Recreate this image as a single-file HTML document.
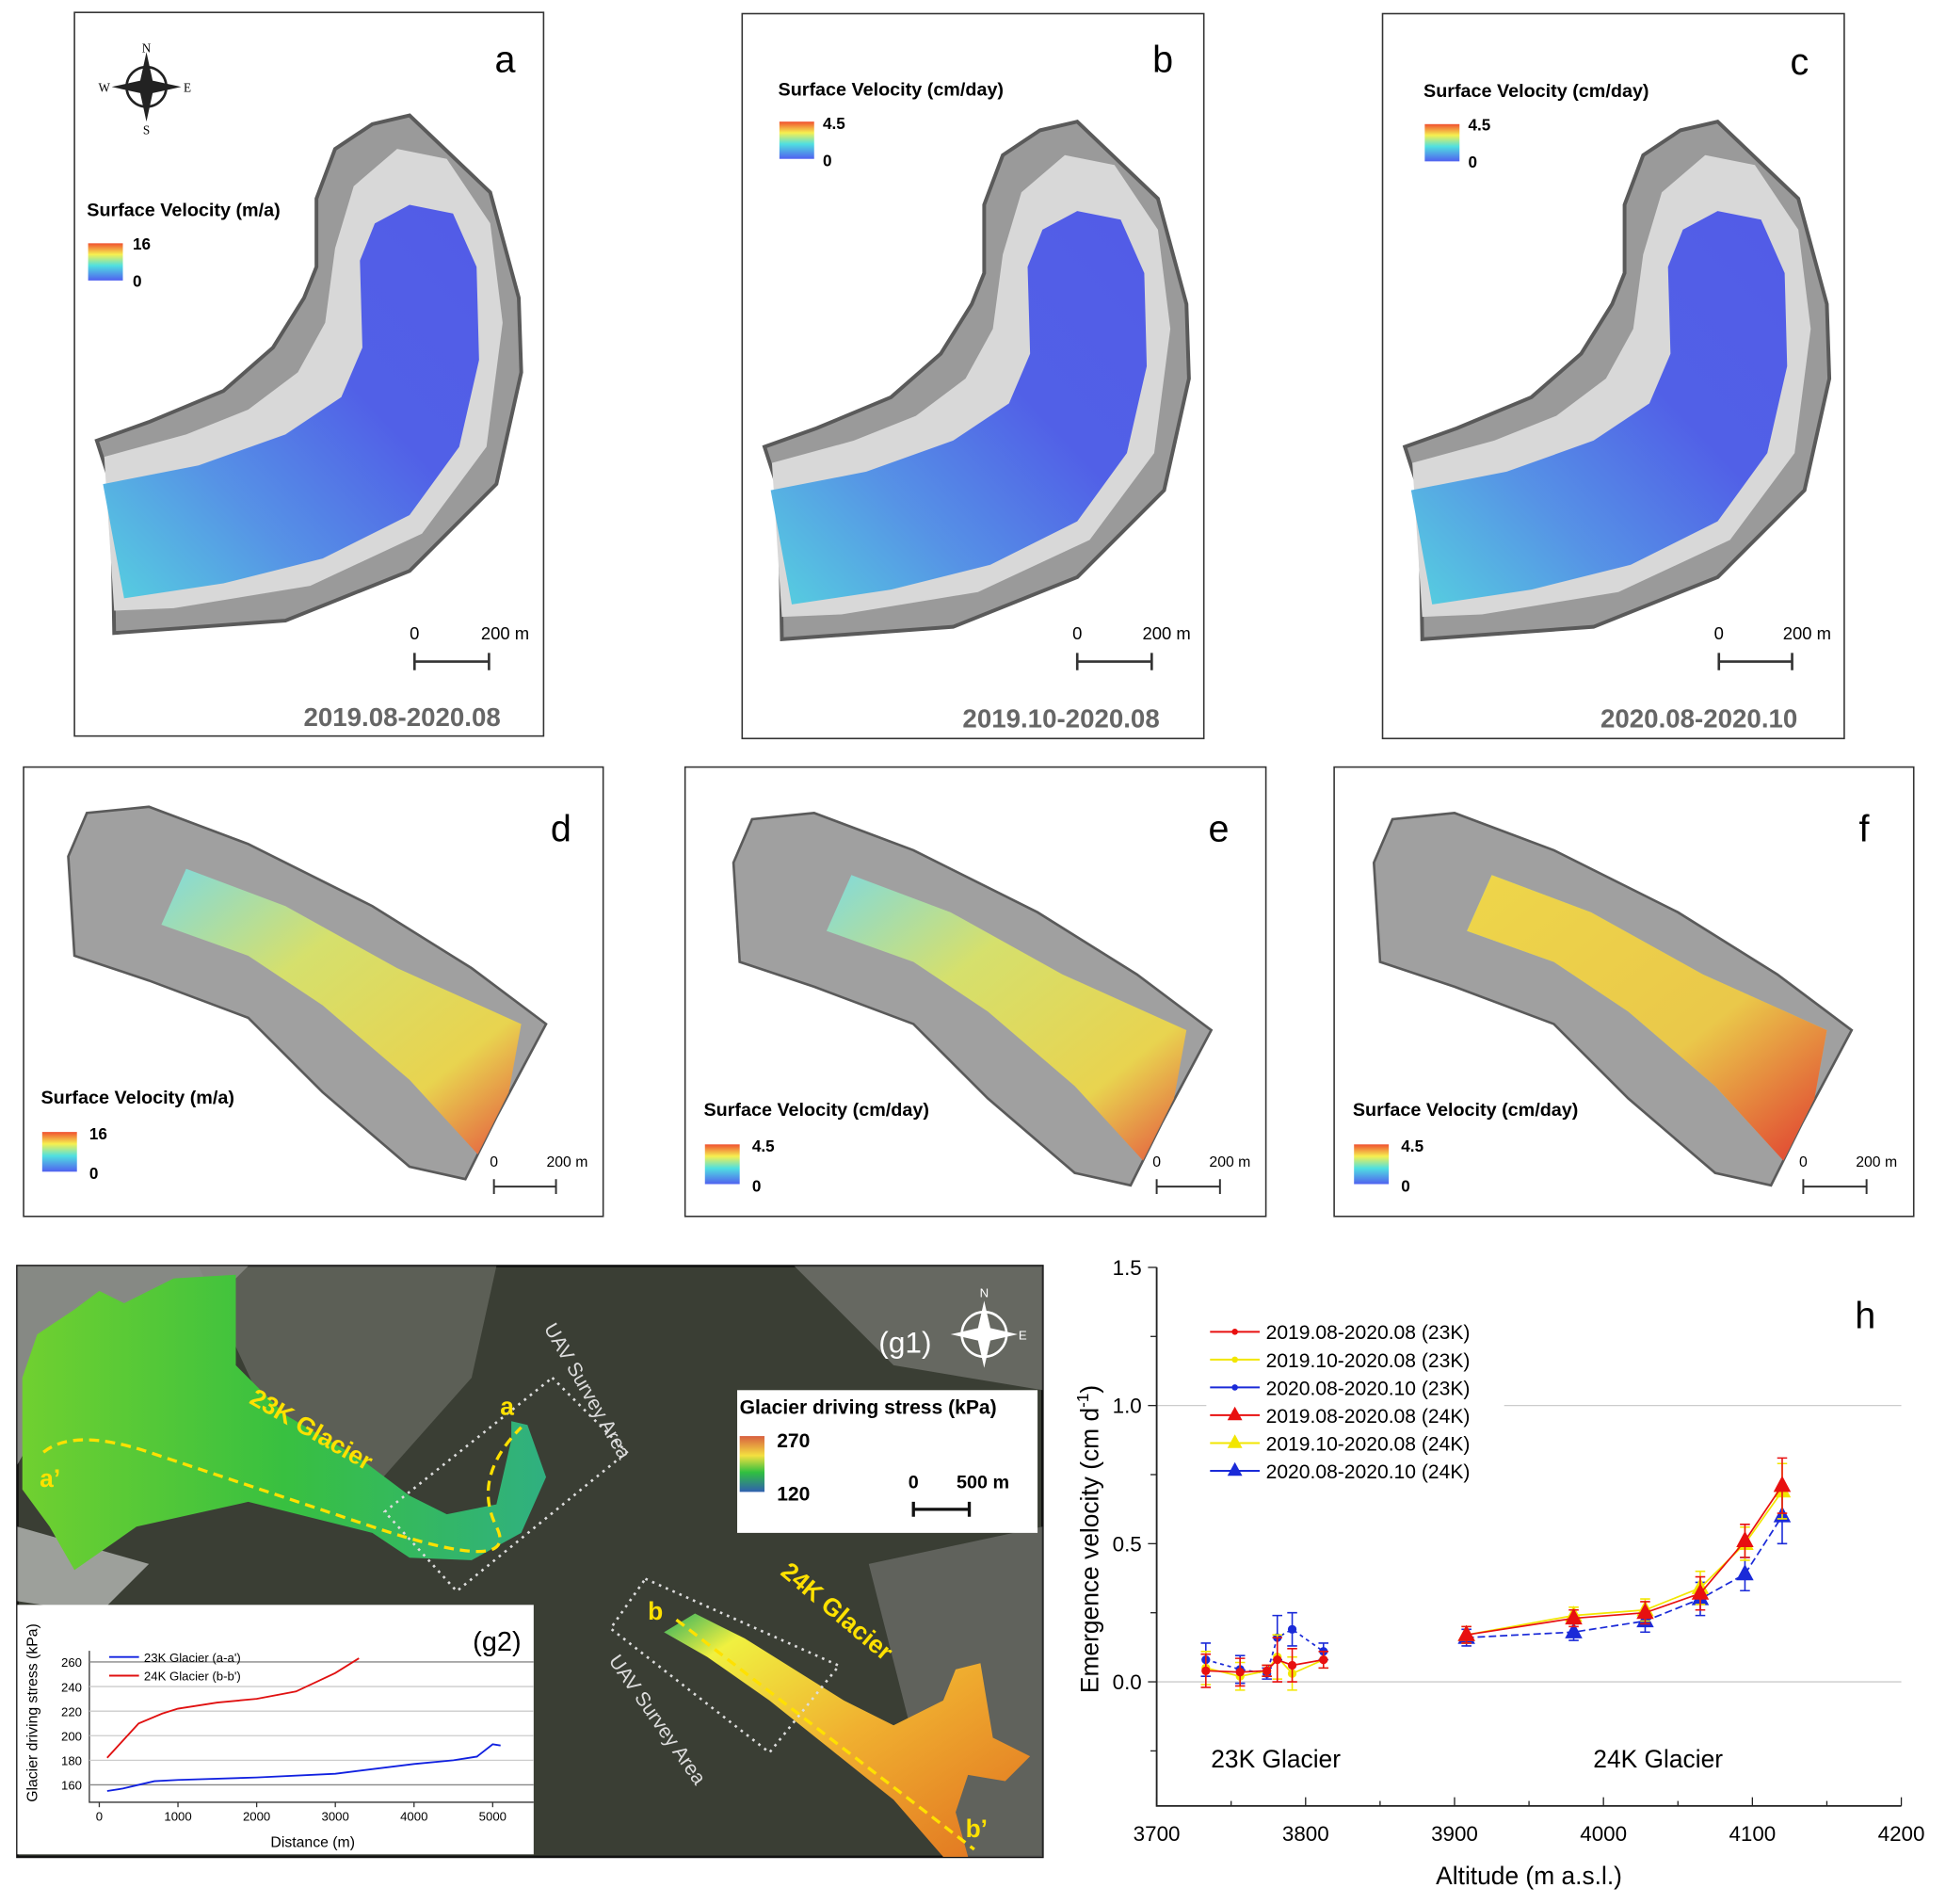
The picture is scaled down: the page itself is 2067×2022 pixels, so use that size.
<!DOCTYPE html>
<html><head><meta charset="utf-8"><style>
html,body{margin:0;padding:0;background:#fff}
svg{display:block;font-family:"Liberation Sans",Arial,sans-serif}
</style></head><body>
<svg id="fig" width="2067" height="2022" viewBox="0 0 1568 1534" preserveAspectRatio="none" xmlns="http://www.w3.org/2000/svg">
<defs>
<linearGradient id="blueGlac" x1="0" y1="1" x2="1" y2="0">
<stop offset="0" stop-color="#4fd0e0"/><stop offset="0.3" stop-color="#4f8fe6"/><stop offset="0.6" stop-color="#4a5ae8"/><stop offset="1" stop-color="#4b55e8"/></linearGradient>
<linearGradient id="dGlac" x1="0" y1="0" x2="1" y2="1">
<stop offset="0" stop-color="#7fdde0"/><stop offset="0.35" stop-color="#d8e36a"/><stop offset="0.75" stop-color="#ecd64b"/><stop offset="1" stop-color="#e8503a"/></linearGradient>
<linearGradient id="fGlac" x1="0" y1="0" x2="1" y2="1">
<stop offset="0" stop-color="#eed64a"/><stop offset="0.6" stop-color="#eac84a"/><stop offset="1" stop-color="#e03a30"/></linearGradient>
<linearGradient id="legRamp" x1="0" y1="0" x2="0" y2="1">
<stop offset="0" stop-color="#f05030"/><stop offset="0.3" stop-color="#f6f050"/><stop offset="0.6" stop-color="#50e0e0"/><stop offset="1" stop-color="#5060f0"/></linearGradient>
<linearGradient id="legRamp2" x1="0" y1="0" x2="0" y2="1">
<stop offset="0" stop-color="#d86040"/><stop offset="0.35" stop-color="#f4e040"/><stop offset="0.65" stop-color="#30c040"/><stop offset="1" stop-color="#3060b0"/></linearGradient>
<linearGradient id="g23" x1="0" y1="0" x2="1" y2="0">
<stop offset="0" stop-color="#70d030"/><stop offset="0.5" stop-color="#38c040"/><stop offset="1" stop-color="#30b080"/></linearGradient>
<linearGradient id="g24" x1="0" y1="0" x2="1" y2="1">
<stop offset="0" stop-color="#30b060"/><stop offset="0.15" stop-color="#f0f040"/><stop offset="0.5" stop-color="#f0b030"/><stop offset="1" stop-color="#e07020"/></linearGradient>
<g id="mapAC">
<polygon fill="#9a9a9a" stroke="#5a5a5a" stroke-width="3" points="78,355 90,392 92,510 230,500 330,460 400,390 420,300 418,240 395,155 330,93 300,100 270,120 255,160 255,215 245,240 220,280 180,315 120,340"/>
<polygon fill="#d8d8d8" points="84,368 150,350 200,330 240,300 262,260 270,200 285,150 320,120 360,128 395,180 405,260 392,360 340,430 250,472 140,490 92,492"/>
<polygon fill="url(#blueGlac)" opacity="0.95" points="83,390 160,375 230,350 275,320 292,280 290,210 302,180 330,165 365,172 384,215 386,290 370,360 330,415 260,450 180,470 100,482"/>
</g>
<g id="mapDF">
<polygon fill="#a0a0a0" stroke="#5a5a5a" stroke-width="2" points="55,690 70,655 120,650 200,680 300,730 380,780 440,825 400,900 375,950 330,940 260,880 200,820 120,790 60,770"/>
<polygon fill="url(#dGlac)" opacity="0.95" points="150,700 230,730 320,780 420,825 410,880 385,930 330,870 260,810 200,770 130,745"/>
</g>
</defs>

<g>
<rect x="60" y="10" width="378" height="583" fill="#fff" stroke="#333" stroke-width="1.2"/>
<use href="#mapAC"/>
<g transform="translate(118,70)">
<circle r="16" fill="none" stroke="#222" stroke-width="2"/><polygon points="0,-28 5,-5 28,0 5,5 0,28 -5,5 -28,0 -5,-5" fill="#222"/>
<text x="0" y="-28" font-size="10" text-anchor="middle" font-family="Liberation Serif">N</text><text x="0" y="38" font-size="10" text-anchor="middle" font-family="Liberation Serif">S</text><text x="-34" y="4" font-size="10" text-anchor="middle" font-family="Liberation Serif">W</text><text x="33" y="4" font-size="10" text-anchor="middle" font-family="Liberation Serif">E</text></g>
<text x="407" y="58" font-size="30" text-anchor="middle">a</text>
<text x="70" y="174" font-size="15" font-weight="bold">Surface Velocity (m/a)</text>
<rect x="71" y="196" width="28" height="30" fill="url(#legRamp)"/>
<text x="107" y="201" font-size="13" font-weight="bold">16</text><text x="107" y="231" font-size="13" font-weight="bold">0</text>
<text x="334" y="515" font-size="14" text-anchor="middle">0</text><text x="407" y="515" font-size="14" text-anchor="middle">200  m</text>
<path d="M334,526 V540 M334,533 H394 M394,526 V540" stroke="#333" stroke-width="2"/>
<text x="324" y="585" font-size="21" font-weight="bold" fill="#666" text-anchor="middle">2019.08-2020.08</text>
</g>
<g>
<rect x="598" y="11" width="372" height="584" fill="#fff" stroke="#333" stroke-width="1.2"/>
<use href="#mapAC" transform="translate(538,5)"/>
<text x="937" y="58" font-size="30" text-anchor="middle">b</text>
<text x="627" y="77" font-size="15" font-weight="bold">Surface Velocity (cm/day)</text>
<rect x="628" y="98" width="28" height="30" fill="url(#legRamp)"/>
<text x="663" y="104" font-size="13" font-weight="bold">4.5</text><text x="663" y="134" font-size="13" font-weight="bold">0</text>
<text x="868" y="515" font-size="14" text-anchor="middle">0</text><text x="940" y="515" font-size="14" text-anchor="middle">200  m</text>
<path d="M868,526 V540 M868,533 H928 M928,526 V540" stroke="#333" stroke-width="2"/>
<text x="855" y="586" font-size="21" font-weight="bold" fill="#666" text-anchor="middle">2019.10-2020.08</text>
</g>
<g>
<rect x="1114" y="11" width="372" height="584" fill="#fff" stroke="#333" stroke-width="1.2"/>
<use href="#mapAC" transform="translate(1054,5)"/>
<text x="1450" y="60" font-size="30" text-anchor="middle">c</text>
<text x="1147" y="78" font-size="15" font-weight="bold">Surface Velocity (cm/day)</text>
<rect x="1148" y="100" width="28" height="30" fill="url(#legRamp)"/>
<text x="1183" y="105" font-size="13" font-weight="bold">4.5</text><text x="1183" y="135" font-size="13" font-weight="bold">0</text>
<text x="1385" y="515" font-size="14" text-anchor="middle">0</text><text x="1456" y="515" font-size="14" text-anchor="middle">200  m</text>
<path d="M1385,526 V540 M1385,533 H1444 M1444,526 V540" stroke="#333" stroke-width="2"/>
<text x="1369" y="586" font-size="21" font-weight="bold" fill="#666" text-anchor="middle">2020.08-2020.10</text>
</g>

<g>
<rect x="19" y="618" width="467" height="362" fill="#fff" stroke="#333" stroke-width="1.2"/>
<use href="#mapDF"/>
<text x="452" y="678" font-size="30" text-anchor="middle">d</text>
<text x="33" y="889" font-size="15" font-weight="bold">Surface Velocity (m/a)</text>
<rect x="34" y="912" width="28" height="32" fill="url(#legRamp)"/>
<text x="72" y="918" font-size="13" font-weight="bold">16</text><text x="72" y="950" font-size="13" font-weight="bold">0</text>
<text x="398" y="940" font-size="12" text-anchor="middle">0</text><text x="457" y="940" font-size="12" text-anchor="middle">200  m</text>
<path d="M398,950 V962 M398,956 H448 M448,950 V962" stroke="#333" stroke-width="1.5"/>
</g>
<g>
<rect x="552" y="618" width="468" height="362" fill="#fff" stroke="#333" stroke-width="1.2"/>
<use href="#mapDF" transform="translate(536,5)"/>
<text x="982" y="678" font-size="30" text-anchor="middle">e</text>
<text x="567" y="899" font-size="15" font-weight="bold">Surface Velocity (cm/day)</text>
<rect x="568" y="922" width="28" height="32" fill="url(#legRamp)"/>
<text x="606" y="928" font-size="13" font-weight="bold">4.5</text><text x="606" y="960" font-size="13" font-weight="bold">0</text>
<text x="932" y="940" font-size="12" text-anchor="middle">0</text><text x="991" y="940" font-size="12" text-anchor="middle">200  m</text>
<path d="M932,950 V962 M932,956 H983 M983,950 V962" stroke="#333" stroke-width="1.5"/>
</g>
<g>
<rect x="1075" y="618" width="467" height="362" fill="#fff" stroke="#333" stroke-width="1.2"/>
<g transform="translate(1052,5)"><use href="#mapDF"/></g>
<polygon transform="translate(1052,5)" fill="url(#fGlac)" points="150,700 230,730 320,780 420,825 410,880 385,930 330,870 260,810 200,770 130,745"/>
<text x="1502" y="678" font-size="30" text-anchor="middle">f</text>
<text x="1090" y="899" font-size="15" font-weight="bold">Surface Velocity (cm/day)</text>
<rect x="1091" y="922" width="28" height="32" fill="url(#legRamp)"/>
<text x="1129" y="928" font-size="13" font-weight="bold">4.5</text><text x="1129" y="960" font-size="13" font-weight="bold">0</text>
<text x="1453" y="940" font-size="12" text-anchor="middle">0</text><text x="1512" y="940" font-size="12" text-anchor="middle">200  m</text>
<path d="M1453,950 V962 M1453,956 H1504 M1504,950 V962" stroke="#333" stroke-width="1.5"/>
</g>

<g>
<rect x="14" y="1020" width="826" height="476" fill="#3a3e34" stroke="#111" stroke-width="2"/>
<polygon points="14,1020 200,1020 160,1060 60,1100 14,1180" fill="#9a9c98" opacity="0.8"/>
<polygon points="160,1020 400,1020 380,1110 300,1200 220,1150" fill="#7e7f78" opacity="0.5"/>
<polygon points="640,1020 840,1020 840,1120 720,1100" fill="#8a8a86" opacity="0.55"/>
<polygon points="14,1230 120,1260 80,1300 14,1290" fill="#c8cac8" opacity="0.7"/>
<polygon points="700,1260 840,1230 840,1496 760,1496" fill="#7a7c78" opacity="0.6"/>
<polygon fill="url(#g23)" points="18,1110 30,1075 60,1055 80,1040 100,1050 140,1030 190,1027 190,1100 230,1140 290,1175 330,1205 360,1220 400,1212 412,1160 412,1145 425,1148 440,1190 420,1235 380,1257 330,1255 300,1235 240,1220 200,1210 110,1230 60,1265 40,1230 18,1200"/>
<path d="M35,1170 Q60,1150 120,1170 T300,1230 T400,1230 T420,1150" stroke="#ffe100" stroke-width="2.5" stroke-dasharray="8,5" fill="none"/>
<polygon fill="url(#g24)" points="535,1315 560,1300 600,1320 640,1345 680,1370 720,1390 760,1370 770,1345 790,1340 795,1370 800,1400 830,1415 810,1435 780,1430 770,1460 780,1496 760,1496 720,1450 670,1410 620,1370 570,1335"/>
<path d="M545,1305 L785,1490" stroke="#ffe100" stroke-width="2.5" stroke-dasharray="8,5" fill="none"/>
<g stroke="#ddd" stroke-width="2" stroke-dasharray="2,4" fill="none">
<polygon points="445,1110 505,1170 368,1282 310,1218"/>
<polygon points="520,1272 676,1342 620,1412 492,1312"/>
</g>
<text x="200" y="1130" font-size="20" font-weight="bold" fill="#ffe100" transform="rotate(30 200 1130)">23K Glacier</text>
<text x="628" y="1268" font-size="20" font-weight="bold" fill="#ffe100" transform="rotate(40 628 1268)">24K Glacier</text>
<text x="403" y="1140" font-size="20" font-weight="bold" fill="#ffe100">a</text>
<text x="32" y="1198" font-size="20" font-weight="bold" fill="#ffe100">a’</text>
<text x="522" y="1305" font-size="20" font-weight="bold" fill="#ffe100">b</text>
<text x="778" y="1480" font-size="20" font-weight="bold" fill="#ffe100">b’</text>
<text x="438" y="1070" font-size="16" fill="#ddd" transform="rotate(60 438 1070)">UAV Survey Area</text>
<text x="490" y="1338" font-size="16" fill="#ddd" transform="rotate(55 490 1338)">UAV Survey Area</text>
<text x="708" y="1090" font-size="24" fill="#fff">(g1)</text>
<g transform="translate(793,1075)"><circle r="18" fill="none" stroke="#fff" stroke-width="2"/><polygon points="0,-27 5,-5 27,0 5,5 0,27 -5,5 -27,0 -5,-5" fill="#fff"/><text y="-30" font-size="10" fill="#fff" text-anchor="middle">N</text><text x="31" y="4" font-size="10" fill="#fff" text-anchor="middle">E</text></g>
<g>
<rect x="594" y="1120" width="242" height="115" fill="#fff"/>
<text x="596" y="1139" font-size="16" font-weight="bold">Glacier driving stress (kPa)</text>
<rect x="596" y="1157" width="20" height="45" fill="url(#legRamp2)"/>
<text x="626" y="1166" font-size="16" font-weight="bold">270</text><text x="626" y="1209" font-size="16" font-weight="bold">120</text>
<text x="736" y="1199" font-size="15" font-weight="bold" text-anchor="middle">0</text><text x="792" y="1199" font-size="15" font-weight="bold" text-anchor="middle">500 m</text>
<path d="M736,1210 V1222 M736,1216 H781 M781,1210 V1222" stroke="#111" stroke-width="2.5"/>
</g>
</g>

<g id="g2">
<rect x="14" y="1293" width="416" height="201" fill="#fff"/>
<text x="420" y="1330" font-size="22" text-anchor="end">(g2)</text>
</g>

<g id="h">
<rect x="860" y="1006" width="700" height="528" fill="#fff"/>
<text x="1503" y="1070" font-size="30" text-anchor="middle">h</text>
</g>
</svg>
<script>
const NS='http://www.w3.org/2000/svg';
function mk(parent,tag,attrs,txt){const e=document.createElementNS(NS,tag);for(const k in attrs)e.setAttribute(k,attrs[k]);if(txt!==undefined)e.textContent=txt;parent.appendChild(e);return e;}

const g2XTicks=[0,1000,2000,3000,4000,5000];
const g2YTicks=[160,180,200,220,240,260];
const g2RedX=[100,300,500,800,1000,1500,2000,2500,2800,3000,3300];
const g2RedY=[182,196,210,218,222,227,230,236,245,251,263];
const g2BlueX=[100,300,500,700,1000,2000,3000,4000,4500,4800,5000,5100];
const g2BlueY=[155,157,160,163,164,166,169,177,180,183,193,192];

const hXTicks=[3700,3800,3900,4000,4100,4200];
const hYTicks=[0.0,0.5,1.0,1.5];
const alt23=[3733,3756,3774,3781,3791,3812];
const red23=[0.04,0.035,0.04,0.08,0.06,0.08];
const yel23=[0.05,0.02,0.04,0.09,0.03,0.08];
const blu23=[0.08,0.045,0.03,0.16,0.19,0.11];
const alt24=[3908,3980,4028,4065,4095,4120];
const red24=[0.17,0.23,0.25,0.32,0.51,0.71];
const yel24=[0.17,0.24,0.26,0.34,0.50,0.69];
const blu24=[0.16,0.18,0.22,0.30,0.39,0.60];
const err23=[0.06,0.05,0.02,0.08,0.06,0.03];
const err24=[0.03,0.03,0.04,0.06,0.06,0.10];
const legendLabels=['2019.08-2020.08 (23K)','2019.10-2020.08 (23K)','2020.08-2020.10 (23K)','2019.08-2020.08 (24K)','2019.10-2020.08 (24K)','2020.08-2020.10 (24K)'];

(function(){
const g=document.getElementById('g2');
const x=v=>80+(v/5000)*317, y=v=>1438-(v-160)*0.99;
mk(g,'path',{d:'M72,1330 V1452 H430',stroke:'#333','stroke-width':1,fill:'none'});
g2YTicks.forEach(t=>{
 const l=mk(g,'line',{x1:72,x2:430,y1:y(t),y2:y(t),stroke:(t===160||t===260)?'#888':'#ccc','stroke-width':1});
 
 
 const tx=mk(g,'text',{x:66,y:y(t)+4,'font-size':10,'text-anchor':'end'},t);
 
 
});
g2XTicks.forEach(t=>{
 mk(g,'line',{x1:x(t),x2:x(t),y1:1452,y2:1456,stroke:'#333'});
 const tx=mk(g,'text',{x:x(t),y:1467,'font-size':10,'text-anchor':'middle'},t);
 
 
});
const xt=mk(g,'text',{x:252,y:1488,'font-size':12,'text-anchor':'middle'},'Distance (m)');


const yt=mk(g,'text',{x:30,y:1380,'font-size':12,'text-anchor':'middle',transform:'rotate(-90 30 1380)'},'Glacier driving stress (kPa)');


const r=mk(g,'polyline',{points:g2RedX.map((v,i)=>x(v)+','+y(g2RedY[i])).join(' '),stroke:'#e01010','stroke-width':1.4,fill:'none'});


const b=mk(g,'polyline',{points:g2BlueX.map((v,i)=>x(v)+','+y(g2BlueY[i])).join(' '),stroke:'#1020e0','stroke-width':1.4,fill:'none'});


mk(g,'line',{x1:88,x2:112,y1:1335,y2:1335,stroke:'#1020e0','stroke-width':1.5});
mk(g,'text',{x:116,y:1339,'font-size':10},"23K Glacier (a-a')");
mk(g,'line',{x1:88,x2:112,y1:1350,y2:1350,stroke:'#e01010','stroke-width':1.5});
mk(g,'text',{x:116,y:1354,'font-size':10},"24K Glacier (b-b')");
})();

(function(){
const g=document.getElementById('h');
const x=v=>932+(v-3700)*1.2, y=v=>1355-v*222.6;
mk(g,'line',{x1:932,x2:1532,y1:y(1),y2:y(1),stroke:'#ccc','stroke-width':1});
mk(g,'line',{x1:932,x2:1532,y1:y(0),y2:y(0),stroke:'#ccc','stroke-width':1});
mk(g,'path',{d:'M932,1021 V1455 H1532',stroke:'#222','stroke-width':1.4,fill:'none'});
[1.25,0.75,0.25,-0.25].forEach(t=>mk(g,'line',{x1:932,x2:927,y1:y(t),y2:y(t),stroke:'#222'}));
hYTicks.forEach(t=>{
 mk(g,'line',{x1:932,x2:925,y1:y(t),y2:y(t),stroke:'#222'});
 const tx=mk(g,'text',{x:920,y:y(t)+6,'font-size':17,'text-anchor':'end'},t.toFixed(1));
 
 
});
hXTicks.forEach((t,i)=>{
 mk(g,'line',{x1:x(t),x2:x(t),y1:1455,y2:1448,stroke:'#222'});
 if(i<5) mk(g,'line',{x1:x(t+50),x2:x(t+50),y1:1455,y2:1451,stroke:'#222'});
 const tx=mk(g,'text',{x:x(t),y:1483,'font-size':17,'text-anchor':'middle'},t);
 
 
});
const xt=mk(g,'text',{x:1232,y:1518,'font-size':20,'text-anchor':'middle'},'Altitude (m a.s.l.)');


const yt=mk(g,'text',{x:885,y:1240,'font-size':20,'text-anchor':'middle',transform:'rotate(-90 885 1240)'});


yt.innerHTML='Emergence velocity (cm d<tspan dy="-8" font-size="13">-1</tspan><tspan dy="8">)</tspan>';
mk(g,'text',{x:1028,y:1424,'font-size':20,'text-anchor':'middle'},'23K Glacier');
mk(g,'text',{x:1336,y:1424,'font-size':20,'text-anchor':'middle'},'24K Glacier');
const series=[
 [alt23,blu23,'#1a2ad8','circle',err23,'3,3'],[alt23,yel23,'#f2e600','circle',err23,''],[alt23,red23,'#e81010','circle',err23,''],
 [alt24,blu24,'#1a2ad8','tri',err24,'6,3'],[alt24,yel24,'#f2e600','tri',err24,''],[alt24,red24,'#e81010','tri',err24,'']];
const names=['h-blue-23k','h-yellow-23k','h-red-23k','h-blue-24k','h-yellow-24k','h-red-24k'];
series.forEach((s,si)=>{
 const [xs,ys,c,m,er,da]=s;
 const pl=mk(g,'polyline',{points:xs.map((v,i)=>x(v)+','+y(ys[i])).join(' '),stroke:c,'stroke-width':1.3,fill:'none','stroke-dasharray':da});
 
 
 xs.forEach((v,i)=>{
  const cx=x(v),cy=y(ys[i]),e=er[i]*222.6;
  mk(g,'path',{d:`M${cx},${cy-e}V${cy+e}M${cx-4},${cy-e}H${cx+4}M${cx-4},${cy+e}H${cx+4}`,stroke:c,'stroke-width':1.2,fill:'none'});
  let p;
  if(m==='circle') p=mk(g,'circle',{cx:cx,cy:cy,r:3.5,fill:c});
  else p=mk(g,'polygon',{points:`${cx},${cy-8} ${cx+7},${cy+5} ${cx-7},${cy+5}`,fill:c});
  
  
 });
});
const legCols=['#e81010','#f2e600','#1a2ad8','#e81010','#f2e600','#1a2ad8'];
legendLabels.forEach((lab,i)=>{
 const ly=1073+i*22.4;
 mk(g,'rect',{x:972,y:ly-10,width:240,height:21,fill:'#fff'});
 mk(g,'line',{x1:975,x2:1015,y1:ly,y2:ly,stroke:legCols[i],'stroke-width':1.5});
 if(i<3) mk(g,'circle',{cx:995,cy:ly,r:2.5,fill:legCols[i]});
 else mk(g,'polygon',{points:`995,${ly-7} 1001,${ly+4} 989,${ly+4}`,fill:legCols[i]});
 const t=mk(g,'text',{x:1020,y:ly+6,'font-size':16},lab);
 
 
});
})();
</script>
</body></html>
